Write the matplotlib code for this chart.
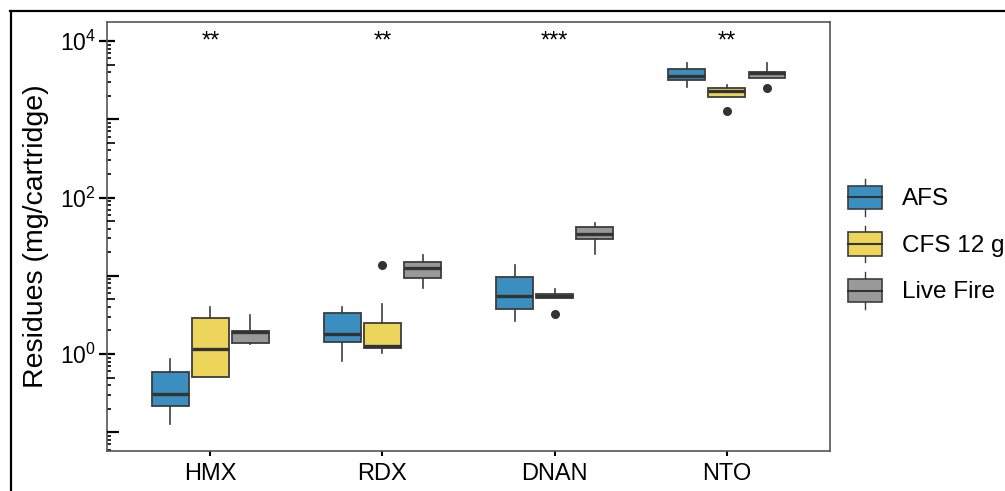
import numpy as np
import matplotlib
matplotlib.use('Agg')
import matplotlib.pyplot as plt
from matplotlib.lines import Line2D
from matplotlib.patches import Rectangle, Patch
from matplotlib.legend_handler import HandlerBase
from matplotlib.ticker import FixedLocator, NullFormatter

plt.rcParams['font.family'] = ['Liberation Sans', 'DejaVu Sans']
plt.rcParams['mathtext.fontset'] = 'custom'
plt.rcParams['mathtext.rm'] = 'Liberation Sans'

compounds = ['HMX', 'RDX', 'DNAN', 'NTO']
groups = ['AFS', 'CFS 12 g', 'Live Fire']
colors = ['#3a8fc0', '#edd55c', '#999999']
signif = ['**', '**', '***', '**']

# box stats, one list per group, in compound order
afs_lo = [0.126, 0.82, 2.64, 2560]
afs_q1 = [0.219, 1.41, 3.79, 3180]
afs_med = [0.308, 1.79, 5.5, 3570]
afs_q3 = [0.584, 3.31, 9.71, 4380]
afs_hi = [0.855, 4.02, 13.6, 5190]
afs_out = [[], [], [], []]

cfs_lo = [0.508, 1.02, 5.14, 1910]
cfs_q1 = [0.508, 1.19, 5.14, 1950]
cfs_med = [1.16, 1.28, 5.5, 2320]
cfs_q3 = [2.88, 2.51, 5.84, 2490]
cfs_hi = [3.95, 4.39, 6.82, 2740]
cfs_out = [[], [13.7], [3.27], [1290]]

live_lo = [1.33, 7.03, 18.8, 3350]
live_q1 = [1.37, 9.43, 29.2, 3350]
live_med = [1.89, 12.5, 34.1, 3870]
live_q3 = [1.97, 15.0, 42.3, 4050]
live_hi = [3.18, 18.4, 46.7, 5190]
live_out = [[], [], [], [2540]]

series = [
    (afs_lo, afs_q1, afs_med, afs_q3, afs_hi, afs_out),
    (cfs_lo, cfs_q1, cfs_med, cfs_q3, cfs_hi, cfs_out),
    (live_lo, live_q1, live_med, live_q3, live_hi, live_out),
]

edge = '#3d3d3d'
dodge = 0.233
bw = 0.213
pos_ax = [0.1065, 0.0815, 0.7195, 0.8735]
ylims = (10 ** -1.239, 10 ** 4.243)

fig = plt.figure(figsize=(10.05, 4.91), dpi=100)
ax = fig.add_axes(pos_ax)

for g, (lo, q1, med, q3, hi, out) in enumerate(series):
    stats = []
    for i in range(len(compounds)):
        stats.append({'whislo': lo[i], 'q1': q1[i], 'med': med[i], 'q3': q3[i],
                      'whishi': hi[i], 'fliers': out[i]})
    pos = np.arange(len(compounds)) + (g - 1) * dodge
    ax.bxp(stats, positions=pos, widths=bw, patch_artist=True, showcaps=False,
           boxprops=dict(facecolor=colors[g], edgecolor=edge, linewidth=1.3),
           medianprops=dict(color='#333333', linewidth=2.4, solid_capstyle='butt'),
           whiskerprops=dict(color=edge, linewidth=1.2),
           flierprops=dict(marker='o', markerfacecolor='#333333', markeredgecolor='#333333',
                           markersize=5.5))

for i, s in enumerate(signif):
    ax.text(i, 1e4, s, ha='center', va='center', fontsize=17)

ax.set_yscale('log')
ax.set_ylim(*ylims)
ax.set_xlim(-0.6, 3.6)
ax.set_xticks(range(len(compounds)))
ax.set_xticklabels(compounds, fontsize=17)
ax.tick_params(axis='x', direction='out', length=3.6, width=1.5, color='black', pad=5)

ax.yaxis.set_major_locator(FixedLocator([1, 100, 1e4]))
ax.set_yticklabels([r'$\mathregular{10^0}$', r'$\mathregular{10^2}$', r'$\mathregular{10^4}$'],
                   fontsize=16.5)
minor = [m * 10.0 ** k for k in range(-2, 5) for m in (2, 3, 4, 6, 7, 8, 9)]
ax.yaxis.set_minor_locator(FixedLocator(minor))
ax.yaxis.set_minor_formatter(NullFormatter())
ax.tick_params(axis='y', which='major', direction='inout', length=12, width=1.6,
               color='black', pad=2)
ax.tick_params(axis='y', which='minor', direction='in', length=3, width=1.2, color='black')

# second set of inward log ticks (decades and 5x) on an overlaid axes
ax2 = fig.add_axes(pos_ax, frameon=False)
ax2.patch.set_visible(False)
ax2.xaxis.set_visible(False)
ax2.set_yscale('log')
ax2.set_ylim(*ylims)
ax2.yaxis.set_major_locator(FixedLocator([0.1, 10, 1000]))
ax2.yaxis.set_major_formatter(NullFormatter())
ax2.yaxis.set_minor_locator(FixedLocator([5 * 10.0 ** k for k in range(-2, 5)]))
ax2.yaxis.set_minor_formatter(NullFormatter())
ax2.tick_params(axis='y', which='major', direction='in', length=8.5, width=1.6, color='black',
                left=True, right=False, labelleft=False)
ax2.tick_params(axis='y', which='minor', direction='in', length=6, width=1.2, color='black',
                left=True, right=False)

for sp in ax.spines.values():
    sp.set_color('#555555')
    sp.set_linewidth(1.2)

ax.set_ylabel('Residues (mg/cartridge)', fontsize=20.5, labelpad=8)


class BoxHandler(HandlerBase):
    def create_artists(self, legend, orig, xd, yd, width, height, fontsize, trans):
        fc = orig.get_facecolor()
        x0, ybase = -xd, -yd
        bh = height * 0.7
        y0 = ybase + (height - bh) / 2
        rect = Rectangle((x0, y0), width, bh, facecolor=fc, edgecolor=edge, lw=1.2,
                         transform=trans)
        mid = ybase + height / 2
        cx = x0 + width / 2
        med = Line2D([x0, x0 + width], [mid, mid], color='#333333', lw=1.5, transform=trans)
        w1 = Line2D([cx, cx], [ybase - height * 0.06, y0], color=edge, lw=1.0, transform=trans)
        w2 = Line2D([cx, cx], [y0 + bh, ybase + height * 1.06], color=edge, lw=1.0,
                    transform=trans)
        return [w1, w2, rect, med]


handles = [Patch(facecolor=c) for c in colors]
fig.legend(handles, groups, loc='center left', bbox_to_anchor=(848 / 1005, 1 - 244 / 491),
           bbox_transform=fig.transFigure, frameon=False, fontsize=17.5,
           handler_map={Patch: BoxHandler()}, handlelength=1.4, handleheight=1.71,
           labelspacing=0.56, handletextpad=0.82, borderpad=0, borderaxespad=0)

# outer frame lines
fig.add_artist(Line2D([10 / 1005, 1], [1 - 11 / 491, 1 - 11 / 491], color='black', lw=1.6,
                      transform=fig.transFigure))
fig.add_artist(Line2D([11 / 1005, 11 / 1005], [0, 1 - 11 / 491], color='black', lw=1.6,
                      transform=fig.transFigure))

fig.savefig('out.png', dpi=100)
